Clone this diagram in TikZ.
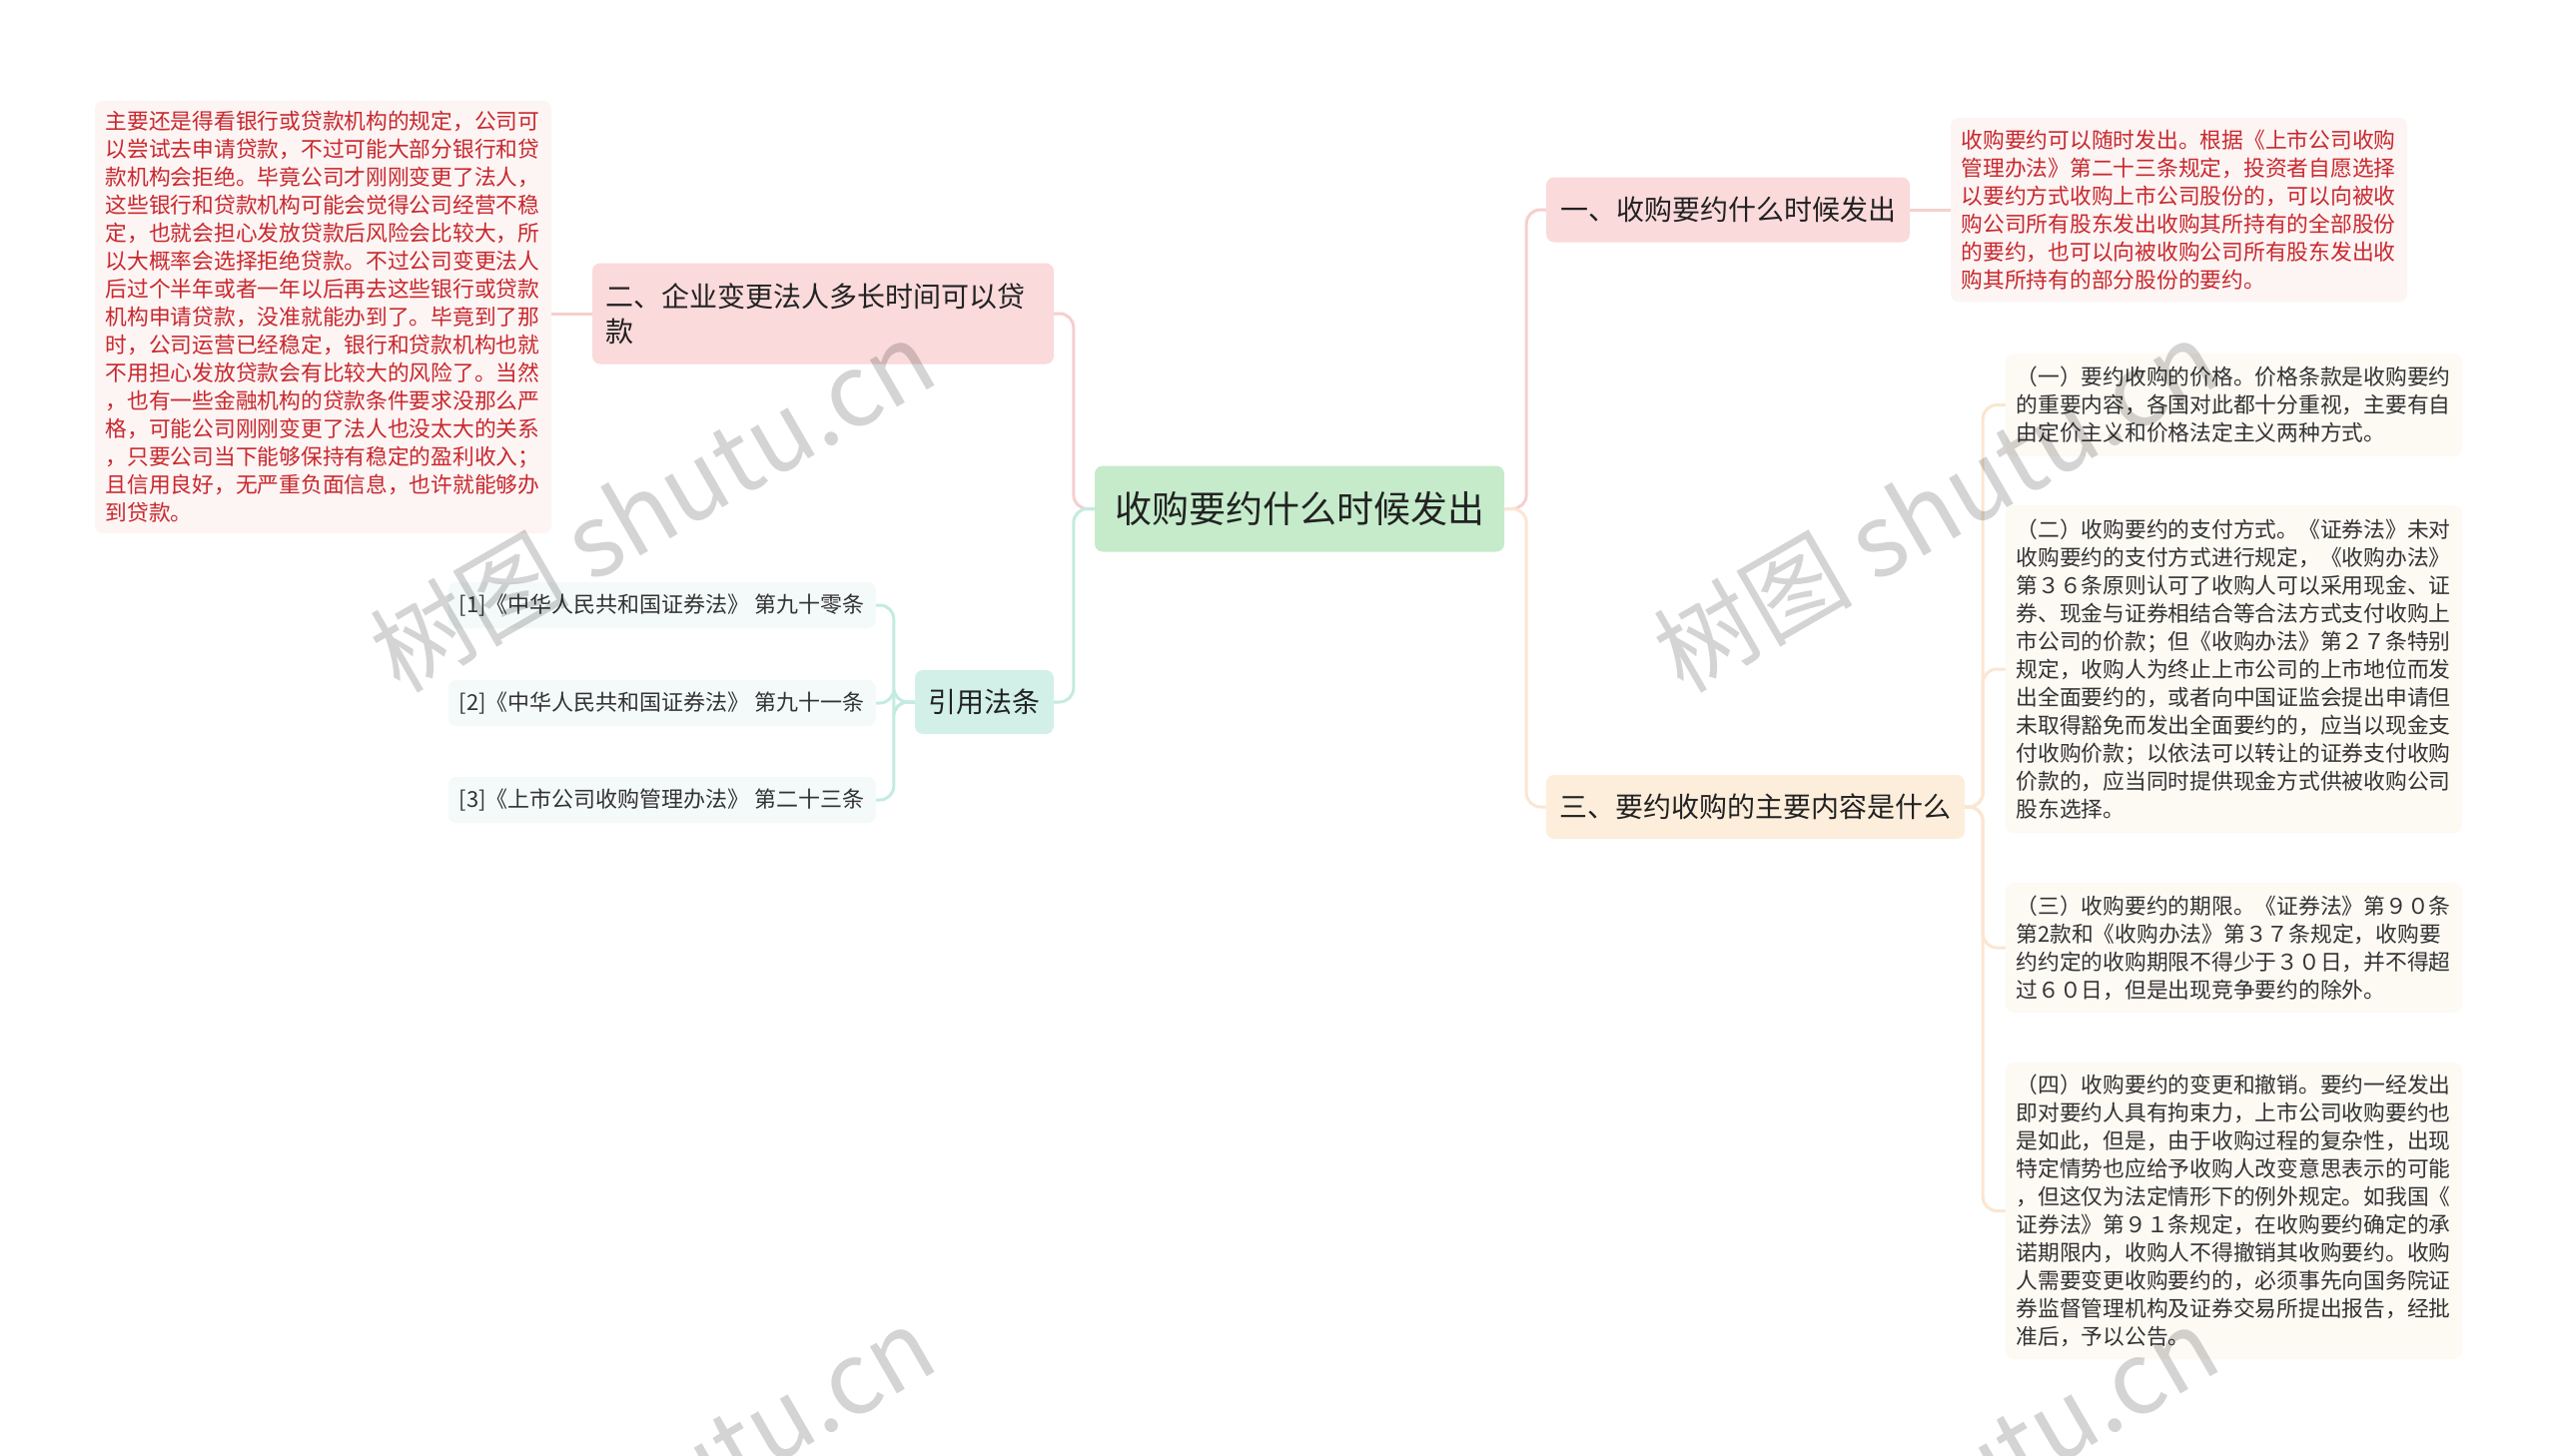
\documentclass[tikz,border=0pt]{standalone}
\usepackage{fontspec}
\setmainfont{Noto Sans CJK SC}
\definecolor{titletext}{HTML}{222222}
\definecolor{ctext}{HTML}{333333}
\definecolor{cgreen}{HTML}{C5EBCB}
\definecolor{cpink}{HTML}{FADADB}
\definecolor{cpeach}{HTML}{FDEEDC}
\definecolor{cmint}{HTML}{D2F0E8}
\definecolor{cpinkline}{HTML}{F5CFCF}
\definecolor{cpeachline}{HTML}{FBE6D2}
\definecolor{cmintline}{HTML}{C4EBE1}
\definecolor{credbg}{HTML}{FDF4F4}
\definecolor{cred}{HTML}{C8282D}
\definecolor{ccream}{HTML}{FDFAF4}
\definecolor{crefbg}{HTML}{F4FAF9}
\begin{document}
\begin{tikzpicture}[x=1pt,y=-1pt,
  box/.style={rounded corners=8pt, inner sep=0pt, anchor=center},
  title/.style={box, font=\fontsize{28pt}{35pt}\selectfont, text=titletext, align=left},
  detail/.style={box, font=\fontsize{21.75pt}{28pt}\selectfont, align=left, text width=436pt, minimum width=457pt},
  reddetail/.style={detail, fill=credbg, text=cred},
  subdetail/.style={detail, fill=ccream, text=ctext},
  refbox/.style={box, fill=crefbg, text=ctext, font=\fontsize{22pt}{26pt}\selectfont, minimum height=46pt, inner xsep=11pt, anchor=east},
  conn/.style={line width=3pt, rounded corners=14pt},
  wm/.style={text=black, text opacity=0.17, font=\fontsize{100pt}{100pt}\selectfont, rotate=30}
]
\fill[white] (0,0) rectangle (2560,1457);
\useasboundingbox (0,0) rectangle (2560,1457);

% central
\node[box, fill=cgreen, minimum width=410pt, minimum height=86pt, font=\fontsize{37pt}{44pt}\selectfont, text=titletext] (c) at (1301,509.5) {收购要约什么时候发出};

% level 1
\node[title, fill=cpink, minimum width=364pt, minimum height=65pt] (n1) at (1730,210) {一、收购要约什么时候发出};
\node[title, fill=cpink, text width=436pt, minimum width=462pt, minimum height=101pt] (n2) at (824,314) {二、企业变更法人多长时间可以贷\\款};
\node[title, fill=cpeach, minimum width=419pt, minimum height=64pt] (n3) at (1757.5,808) {三、要约收购的主要内容是什么};
\node[title, fill=cmint, minimum width=139pt, minimum height=64pt] (r) at (985.5,703) {引用法条};

% details
\node[reddetail, minimum height=433pt] (dL) at (323.5,317.5) {主要还是得看银行或贷款机构的规定，公司可\\以尝试去申请贷款，不过可能大部分银行和贷\\款机构会拒绝。毕竟公司才刚刚变更了法人，\\这些银行和贷款机构可能会觉得公司经营不稳\\定，也就会担心发放贷款后风险会比较大，所\\以大概率会选择拒绝贷款。不过公司变更法人\\后过个半年或者一年以后再去这些银行或贷款\\机构申请贷款，没准就能办到了。毕竟到了那\\时，公司运营已经稳定，银行和贷款机构也就\\不用担心发放贷款会有比较大的风险了。当然\\，也有一些金融机构的贷款条件要求没那么严\\格，可能公司刚刚变更了法人也没太大的关系\\，只要公司当下能够保持有稳定的盈利收入；\\且信用良好，无严重负面信息，也许就能够办\\到贷款。};

\node[reddetail, minimum height=184pt] (d1) at (2181.5,210) {收购要约可以随时发出。根据《上市公司收购\\管理办法》第二十三条规定，投资者自愿选择\\以要约方式收购上市公司股份的，可以向被收\\购公司所有股东发出收购其所持有的全部股份\\的要约，也可以向被收购公司所有股东发出收\\购其所持有的部分股份的要约。};

\node[subdetail, minimum height=103pt] (k1) at (2236.5,405.5) {（一）要约收购的价格。价格条款是收购要约\\的重要内容，各国对此都十分重视，主要有自\\由定价主义和价格法定主义两种方式。};

\node[subdetail, minimum height=328pt] (k2) at (2236.5,670) {（二）收购要约的支付方式。《证券法》未对\\收购要约的支付方式进行规定，《收购办法》\\第３６条原则认可了收购人可以采用现金、证\\券、现金与证券相结合等合法方式支付收购上\\市公司的价款；但《收购办法》第２７条特别\\规定，收购人为终止上市公司的上市地位而发\\出全面要约的，或者向中国证监会提出申请但\\未取得豁免而发出全面要约的，应当以现金支\\付收购价款；以依法可以转让的证券支付收购\\价款的，应当同时提供现金方式供被收购公司\\股东选择。};

\node[subdetail, minimum height=130pt] (k3) at (2236.5,949) {（三）收购要约的期限。《证券法》第９０条\\第2款和《收购办法》第３７条规定，收购要\\约约定的收购期限不得少于３０日，并不得超\\过６０日，但是出现竞争要约的除外。};

\node[subdetail, minimum height=297pt] (k4) at (2236.5,1212.5) {（四）收购要约的变更和撤销。要约一经发出\\即对要约人具有拘束力，上市公司收购要约也\\是如此，但是，由于收购过程的复杂性，出现\\特定情势也应给予收购人改变意思表示的可能\\，但这仅为法定情形下的例外规定。如我国《\\证券法》第９１条规定，在收购要约确定的承\\诺期限内，收购人不得撤销其收购要约。收购\\人需要变更收购要约的，必须事先向国务院证\\券监督管理机构及证券交易所提出报告，经批\\准后，予以公告。};

% references
\node[refbox] (f1) at (877,606) {[1]《中华人民共和国证券法》 第九十零条};
\node[refbox] (f2) at (877,704) {[2]《中华人民共和国证券法》 第九十一条};
\node[refbox] (f3) at (877,801) {[3]《上市公司收购管理办法》 第二十三条};

% connectors
\draw[conn, cpinkline] (c.west) -- ++(-21,0) |- (n2.east);
\draw[conn, cmintline] (c.west) -- ++(-21,0) |- (r.east);
\draw[conn, cpinkline] (c.east) -- ++(22,0) |- (n1.west);
\draw[conn, cpeachline] (c.east) -- ++(22,0) |- (n3.west);
\draw[conn, cpinkline] (n1.east) -- (d1.west);
\draw[conn, cpinkline] (n2.west) -- (n2.west -| dL.east);
\draw[conn, cmintline] (r.west) -- ++(-21,0) |- (f1.east);
\draw[conn, cmintline] (r.west) -- ++(-21,0) |- (f2.east);
\draw[conn, cmintline] (r.west) -- ++(-21,0) |- (f3.east);
\draw[conn, cpeachline] (n3.east) -- ++(18,0) |- (k1.west);
\draw[conn, cpeachline] (n3.east) -- ++(18,0) |- (k2.west);
\draw[conn, cpeachline] (n3.east) -- ++(18,0) |- (k3.west);
\draw[conn, cpeachline] (n3.east) -- ++(18,0) |- (k4.west);

% watermarks
\begin{scope}
\clip (0,0) rectangle (2560,1457);
\node[wm] (w1) at (653,506) {树图 shutu.cn};
\node[wm] (w2) at (1938,506) {树图 shutu.cn};
\node[wm] (w3) at (653,1494) {树图 shutu.cn};
\node[wm] (w4) at (1938,1494) {树图 shutu.cn};
\end{scope}
\end{tikzpicture}
\end{document}
